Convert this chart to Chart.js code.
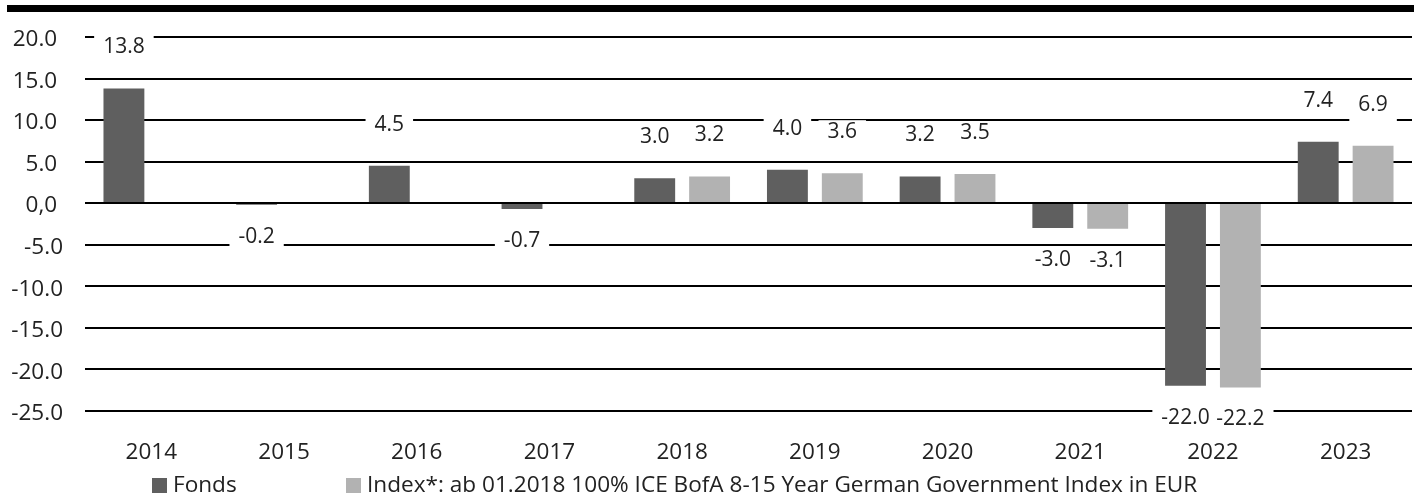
<!DOCTYPE html>
<html>
<head>
<meta charset="utf-8">
<script src="https://cdn.jsdelivr.net/npm/chart.js"></script>
<style>
    html, body { margin: 0; padding: 0; background: #fff; }
    #wrap { position: relative; width: 1419px; height: 495px; overflow: hidden; }
    #topbar { position: absolute; left: 7px; top: 5px; width: 1407px; height: 7px; background: #000; }
    #chart { position: absolute; left: 0; top: 0; }
    .legend { position: absolute; top: 471px; font-family: "Open Sans", sans-serif; font-size: 22.6px; color: #222; white-space: nowrap; line-height: 26px; }
    .legend i { display: inline-block; width: 15px; height: 15px; margin-right: 6px; vertical-align: -1px; }
</style>
</head>
<body>
<div id="wrap">
    <canvas id="chart" width="1419" height="495"></canvas>
    <div id="topbar"></div>
    <div class="legend" id="lg0" style="left:152px"></div>
    <div class="legend" id="lg1" style="left:346px"></div>
</div>
<script>
// values
const years = ["2014", "2015", "2016", "2017", "2018", "2019", "2020", "2021", "2022", "2023"];
const fondsValues = [13.8, -0.2, 4.5, -0.7, 3.0, 4.0, 3.2, -3.0, -22.0, 7.4];
const indexValues = [null, null, null, null, 3.2, 3.6, 3.5, -3.1, -22.2, 6.9];
const seriesNames = ["Fonds", "Index*: ab 01.2018 100% ICE BofA 8-15 Year German Government Index in EUR"];
const seriesColors = ["#5f5f5f", "#b2b2b2"];
const yMin = -25;
const yMax = 20;
const yStep = 5;

const FONT = "'Open Sans', sans-serif";

// zero axis on top of the bars, then value labels in white boxes
const valueLabels = {
    id: "valueLabels",
    afterDatasetsDraw(chart) {
        const ctx = chart.ctx;
        const area = chart.chartArea;
        const y0 = chart.scales.y.getPixelForValue(0);
        ctx.save();
        ctx.strokeStyle = "#000";
        ctx.lineWidth = 2;
        ctx.beginPath();
        ctx.moveTo(area.left, y0);
        ctx.lineTo(area.right, y0);
        ctx.stroke();

        ctx.font = "21px " + FONT;
        ctx.textAlign = "center";
        ctx.textBaseline = "middle";
        const items = [];
        chart.data.datasets.forEach((ds, di) => {
            const meta = chart.getDatasetMeta(di);
            meta.data.forEach((bar, i) => {
                const v = ds.data[i];
                if (v === null || v === undefined) return;
                const txt = v.toFixed(1);
                const cy = v >= 0 ? bar.y - 41 : bar.y + 32;
                items.push({ txt, x: bar.x, cy, w: ctx.measureText(txt).width + 18 });
            });
        });
        ctx.fillStyle = "#fff";
        items.forEach((it) => ctx.fillRect(it.x - it.w / 2, it.cy - 12, it.w, 30));
        ctx.fillStyle = "#222";
        items.forEach((it) => ctx.fillText(it.txt, it.x, it.cy));
        ctx.restore();
    }
};

function buildLegend() {
    seriesNames.forEach((name, i) => {
        const el = document.getElementById("lg" + i);
        el.innerHTML = `<i style="background:${seriesColors[i]}"></i>${name}`;
    });
}

function drawChart() {
    const canvas = document.getElementById("chart");
    new Chart(canvas, {
        type: "bar",
        data: {
            labels: years,
            datasets: [
                {
                    label: seriesNames[0],
                    data: fondsValues,
                    backgroundColor: seriesColors[0],
                    barPercentage: 0.745,
                    categoryPercentage: 0.827
                },
                {
                    label: seriesNames[1],
                    data: indexValues,
                    backgroundColor: seriesColors[1],
                    barPercentage: 0.745,
                    categoryPercentage: 0.827
                }
            ]
        },
        options: {
            responsive: false,
            animation: false,
            layout: { padding: { top: 37, right: 7, left: 0, bottom: 0 } },
            plugins: {
                legend: { display: false },
                tooltip: { enabled: false }
            },
            scales: {
                x: {
                    grid: { display: false },
                    border: { display: false },
                    ticks: {
                        color: "#222",
                        font: { family: FONT, size: 22.5 },
                        padding: 20,
                        maxRotation: 0
                    },
                    afterFit(scale) { scale.height = 84.3; }
                },
                y: {
                    min: yMin,
                    max: yMax,
                    grid: { color: "#000", lineWidth: 2, drawTicks: false },
                    border: { display: false },
                    ticks: {
                        stepSize: yStep,
                        color: "#222",
                        font: { family: FONT, size: 22.5 },
                        padding: 22,
                        labelOffset: 3,
                        callback: (v) => v === 0 ? "0,0 " : (v > 0 ? v.toFixed(1) + " " : v.toFixed(1))
                    },
                    afterFit(scale) { scale.width = 85; }
                }
            }
        },
        plugins: [valueLabels]
    });
}

buildLegend();
drawChart();
</script>
</body>
</html>
